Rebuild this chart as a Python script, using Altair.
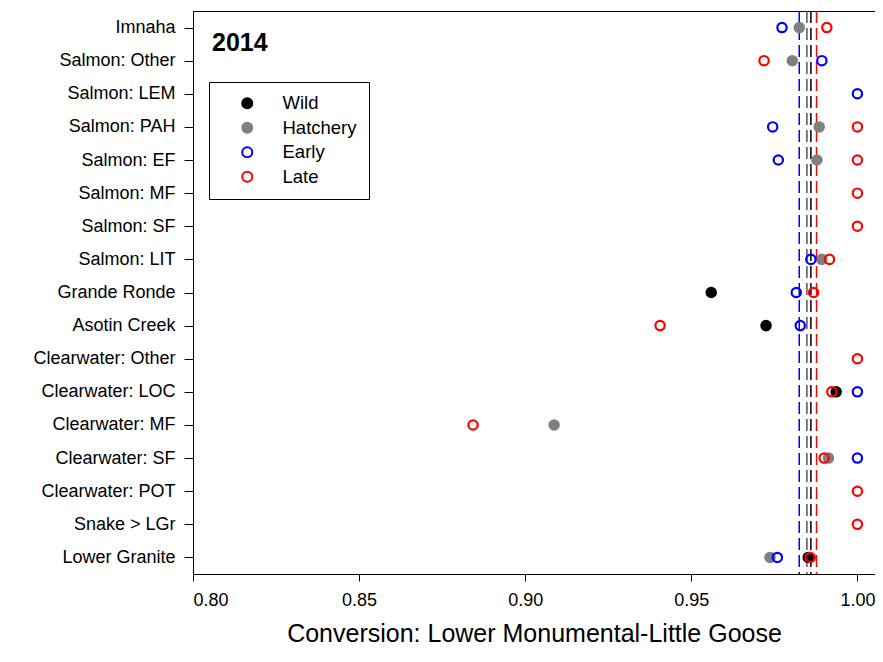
import altair as alt
import pandas as pd

categories = ["Imnaha", "Salmon: Other", "Salmon: LEM", "Salmon: PAH", "Salmon: EF",
              "Salmon: MF", "Salmon: SF", "Salmon: LIT", "Grande Ronde", "Asotin Creek",
              "Clearwater: Other", "Clearwater: LOC", "Clearwater: MF", "Clearwater: SF",
              "Clearwater: POT", "Snake > LGr", "Lower Granite"]

wild = {"Grande Ronde": 0.9560, "Asotin Creek": 0.9725, "Clearwater: LOC": 0.9936,
        "Lower Granite": 0.9852}
hatchery = {"Imnaha": 0.9825, "Salmon: Other": 0.9804, "Salmon: PAH": 0.9885,
            "Salmon: EF": 0.9878, "Salmon: LIT": 0.9893, "Clearwater: MF": 0.9087,
            "Clearwater: SF": 0.9913, "Lower Granite": 0.9737}
early = {"Imnaha": 0.9773, "Salmon: Other": 0.9893, "Salmon: LEM": 1.0, "Salmon: PAH": 0.9745,
         "Salmon: EF": 0.9762, "Salmon: LIT": 0.9860, "Grande Ronde": 0.9816,
         "Asotin Creek": 0.9828, "Clearwater: LOC": 1.0, "Clearwater: SF": 1.0,
         "Lower Granite": 0.9759}
late = {"Imnaha": 0.9908, "Salmon: Other": 0.9719, "Salmon: PAH": 1.0, "Salmon: EF": 1.0,
        "Salmon: MF": 1.0, "Salmon: SF": 1.0, "Salmon: LIT": 0.9916, "Grande Ronde": 0.9868,
        "Asotin Creek": 0.9406, "Clearwater: Other": 1.0, "Clearwater: LOC": 0.9923,
        "Clearwater: MF": 0.8843, "Clearwater: SF": 0.9900, "Clearwater: POT": 1.0,
        "Snake > LGr": 1.0, "Lower Granite": 0.9858}

types = ["Wild", "Hatchery", "Early", "Late"]
stroke_colors = ["black", "#808080", "#0000FF", "#FF0000"]
fill_colors = ["black", "#808080", "transparent", "transparent"]

mean_values = [0.9825, 0.9848, 0.9860, 0.9877]
mean_colors = ["#0000FF", "#555555", "black", "#FF0000"]

x_ticks = [0.80, 0.85, 0.90, 0.95, 1.00]

rows = []
for t, d in zip(types, [wild, hatchery, early, late]):
    for site in categories:
        if site in d:
            rows.append({"site": site, "value": d[site], "type": t})
df = pd.DataFrame(rows)

lines_df = pd.DataFrame({"value": mean_values, "lcolor": mean_colors})

xscale = alt.Scale(domain=[0.8, 1.0053], nice=False, zero=False)
xaxis = alt.Axis(title="Conversion: Lower Monumental-Little Goose", values=x_ticks,
                 format=".2f", grid=False, tickSize=7, labelPadding=10,
                 titlePadding=12, titleFontSize=25, titleFontWeight="normal",
                 labelFontSize=18)
yaxis = alt.Axis(title=None, grid=False, tickSize=9, labelPadding=9, labelFontSize=18)
yscale = alt.Scale(type="point", padding=0.5)

rules = alt.Chart(lines_df).mark_rule(strokeDash=[12, 5], strokeWidth=1.5).encode(
    x=alt.X("value:Q", scale=xscale, axis=xaxis),
    stroke=alt.Stroke("lcolor:N", scale=None),
)

points = alt.Chart(df).mark_point(shape="circle", size=87, strokeWidth=2.2, opacity=1).encode(
    x=alt.X("value:Q", scale=xscale, axis=xaxis),
    y=alt.Y("site:N", sort=categories, scale=yscale, axis=yaxis),
    stroke=alt.Stroke("type:N", scale=alt.Scale(domain=types, range=stroke_colors),
                      legend=alt.Legend(title=None)),
    fill=alt.Fill("type:N", scale=alt.Scale(domain=types, range=fill_colors),
                  legend=alt.Legend(title=None)),
)

year = alt.Chart(pd.DataFrame({"t": ["2014"]})).mark_text(
    align="left", baseline="alphabetic", fontSize=25, fontWeight="bold", color="black"
).encode(text="t:N", x=alt.value(19), y=alt.value(40))

chart = alt.layer(rules, points, year).properties(
    width=682, height=563,
    padding={"left": 185, "top": 3, "right": 0, "bottom": 74},
    autosize=alt.AutoSizeParams(type="none"),
).configure_view(stroke="black", strokeWidth=1).configure_axis(
    labelFont="Liberation Sans", titleFont="Liberation Sans", labelColor="black",
    titleColor="black", domainColor="black", tickColor="black", domainWidth=1, tickWidth=1,
).configure_legend(
    orient="none", legendX=16, legendY=71, strokeColor="black", strokeWidth=1,
    padding=12, symbolOffset=17, labelOffset=26, rowPadding=5.5,
    labelFontSize=18.5, labelFont="Liberation Sans", labelColor="black",
    symbolSize=100, symbolStrokeWidth=2, fillColor="white",
)

chart.save("out.html", embed_options={"renderer": "svg", "actions": False})
